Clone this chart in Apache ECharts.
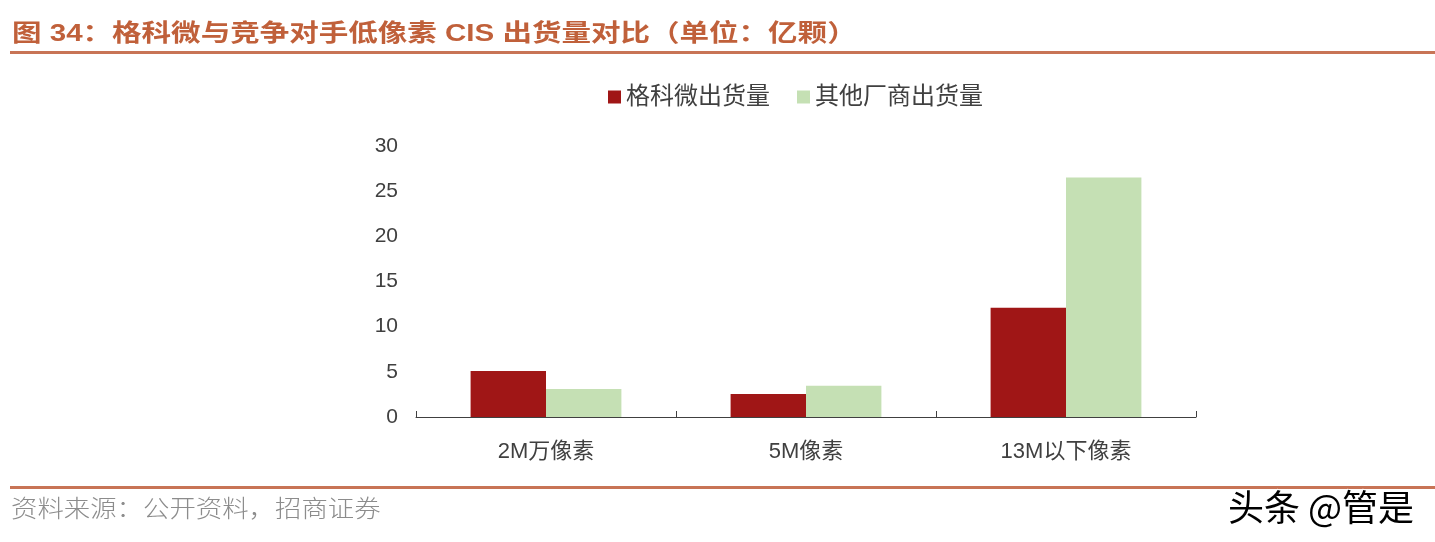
<!DOCTYPE html>
<html><head><meta charset="utf-8">
<script src="https://cdn.jsdelivr.net/npm/echarts@6/dist/echarts.min.js"></script>
<style>html,body{margin:0;padding:0;background:#fff}#c{width:1435px;height:542px}</style>
</head><body><div id="c"></div>
<script>
const categories = ['2M万像素', '5M像素', '13M以下像素'];
const gekeValues = [5.1, 2.55, 12.1];
const otherValues = [3.1, 3.45, 26.5];
const seriesNames = ['格科微出货量', '其他厂商出货量'];
const titleText = '图 34：格科微与竞争对手低像素 CIS 出货量对比（单位：亿颗）';
const sourceText = '资料来源：公开资料，招商证券';
const watermarkText = '头条 @管是';

const F = '"Liberation Sans", Arial, "Noto Sans CJK SC", sans-serif';
const chart = echarts.init(document.getElementById('c'));
chart.setOption({
  animation: false,
  backgroundColor: '#fff',
  legend: {
    left: 603, top: 80, itemWidth: 13, itemHeight: 13, itemGap: 27,
    icon: 'rect',
    textStyle: { fontSize: 24, color: '#404040', fontFamily: F },
    data: seriesNames
  },
  grid: { left: 416, right: 239, top: 146, bottom: 125, containLabel: false },
  xAxis: {
    type: 'category', data: categories,
    axisLine: { lineStyle: { color: '#404040', width: 1 } },
    axisTick: { show: true, inside: true, length: 6, lineStyle: { color: '#404040' } },
    axisLabel: { fontSize: 22, color: '#404040', margin: 24, fontFamily: F }
  },
  yAxis: {
    type: 'value', min: 0, max: 30, interval: 5,
    splitLine: { show: false },
    axisLine: { show: false }, axisTick: { show: false },
    axisLabel: { fontSize: 21, color: '#404040', margin: 18, fontFamily: F }
  },
  series: [
    { name: seriesNames[0], type: 'bar', data: gekeValues, barGap: '0%', barCategoryGap: '42%',
      itemStyle: { color: '#A01616' } },
    { name: seriesNames[1], type: 'bar', data: otherValues, barGap: '0%', barCategoryGap: '42%',
      itemStyle: { color: '#C5E0B4' } }
  ],
  graphic: [
    { type: 'text', x: 12, y: 22, scaleX: 1.23, style: { text: titleText, fontSize: 24, fontWeight: 'bold', fill: '#C0603A', fontFamily: F } },
    { type: 'rect', shape: { x: 10, y: 51, width: 1425, height: 3 }, style: { fill: '#C87456' } },
    { type: 'rect', shape: { x: 10, y: 486, width: 1425, height: 3 }, style: { fill: '#C87456' } },
    { type: 'text', x: 11, y: 496, scaleX: 1.1, style: { text: sourceText, fontSize: 24, fill: '#8c8c8c', fontFamily: '"Noto Sans CJK SC", sans-serif', fontWeight: 300 } },
    { type: 'text', x: 1228, y: 489, style: { text: watermarkText, fontSize: 36, fill: '#000', stroke: '#fff', lineWidth: 2, fontFamily: '"Noto Sans CJK SC", sans-serif' } }
  ]
});
</script></body></html>
